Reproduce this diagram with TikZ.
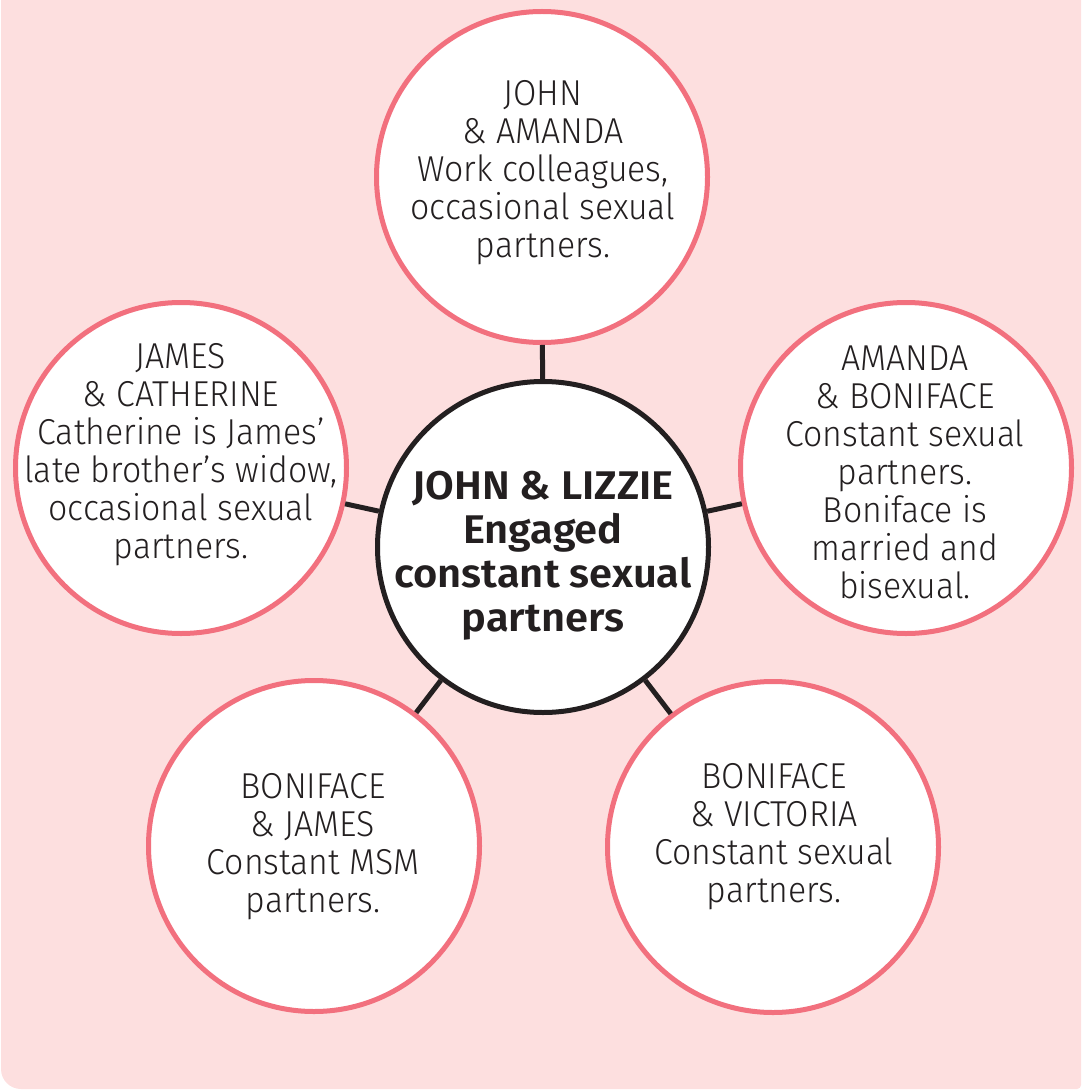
\documentclass[tikz,border=0pt]{standalone}
\usepackage{fontspec}
\setmainfont{Fira Sans Light}[FakeStretch=0.94, BoldFont={Fira Sans SemiBold}, BoldFeatures={FakeStretch=1.04}]
\usepackage{xcolor}
\usepackage{tikz}
\definecolor{bgpink}{HTML}{FDDFDF}
\definecolor{ringpink}{HTML}{F2707E}
\definecolor{inkdark}{HTML}{231F20}
\tikzset{
  ring/.style={circle, draw=ringpink, fill=white, line width=2.5pt, minimum size=165.5pt, inner sep=0pt},
  hub/.style={circle, draw=inkdark, fill=white, line width=2.5pt, minimum size=165.5pt, inner sep=0pt},
  link/.style={draw=inkdark, line width=2.5pt},
  pairtext/.style={align=center, text=inkdark, font=\fontsize{18}{19}\selectfont, inner sep=0pt},
  hubtext/.style={align=center, text=inkdark, font=\fontsize{20}{22}\selectfont\bfseries, inner sep=0pt}
}

\begin{document}
\begin{tikzpicture}[x=0.5pt, y=-0.5pt]
\useasboundingbox (0,0) rectangle (1081,1091);
\fill [bgpink] (1,-5) [rounded corners=10pt] -- (1,1089) [rounded corners=2pt] -- (1081,1089) [sharp corners] -- (1081,-5) -- cycle;

\node [hub] (hub) at (543,547) {};
\node [ring] (ja) at (542,177) {};
\node [ring] (jc) at (181,468) {};
\node [ring] (ab) at (906,468) {};
\node [ring] (bj) at (314,846) {};
\node [ring] (bv) at (773,847) {};

\foreach \p in {ja,jc,ab,bj,bv}
  \draw [link] (hub) -- (\p);

\node [hubtext] (hubtxt) at (543,556) {JOHN \& LIZZIE\\Engaged\\constant sexual\\partners};
\node [pairtext] (jatxt) at (543,173) {JOHN\\\& AMANDA\\Work colleagues,\\occasional sexual\\partners.};
\node [pairtext] (jctxt) at (181,455) {JAMES\\\& CATHERINE\\Catherine is James’\\late brother’s widow,\\occasional sexual\\partners.};
\node [pairtext] (abtxt) at (905,472) {AMANDA\\\& BONIFACE\\Constant sexual\\partners.\\Boniface is\\married and\\bisexual.};
\node [pairtext] (bjtxt) at (313,847) {BONIFACE\\\& JAMES\\Constant MSM\\partners.};
\node [pairtext] (bvtxt) at (774,837) {BONIFACE\\\& VICTORIA\\Constant sexual\\partners.};

\end{tikzpicture}
\end{document}
